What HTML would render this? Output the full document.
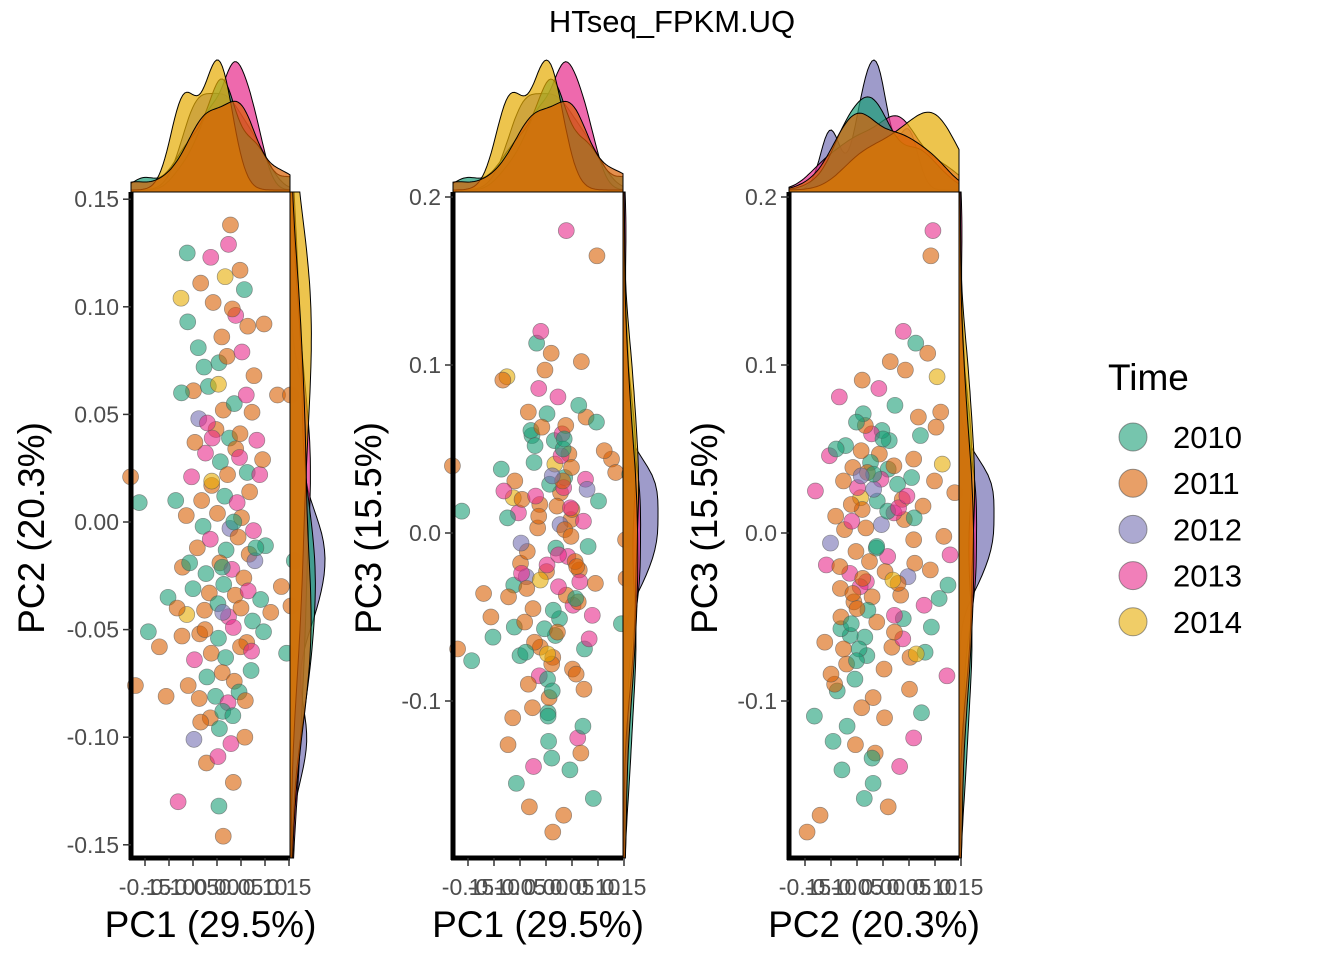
<!DOCTYPE html>
<html><head><meta charset="utf-8"><style>
html,body{margin:0;padding:0;background:#fff;}
svg{display:block;font-family:"Liberation Sans",Arial,sans-serif;}
</style></head><body>
<svg id="chart" width="1344" height="960" viewBox="0 0 1344 960" xmlns="http://www.w3.org/2000/svg">
<text x="672" y="32" font-size="31" text-anchor="middle">HTseq_FPKM.UQ</text>
<g id="panels"></g>
<g id="legend">
<text x="1108" y="390" font-size="37">Time</text>
</g>
</svg>
<script>
// Shared samples, values in hundredths: [PC1, PC2, PC3, yearIndex]
const samples = [
[-6.2,12.5,-3.1,0],[-3.4,11.1,7.2,1],[2.8,13.8,2.4,1],[-1.3,12.3,-8.5,3],[1.7,11.4,4.1,4],[-7.5,10.4,9.3,4],[-6.1,9.3,-5.6,0],[3.9,9.6,18.0,3],[6.4,9.1,-2.2,1],[9.8,9.2,16.5,1],
[-2.7,7.2,5.8,0],[0.4,7.4,-10.7,0],[2.1,7.7,1.6,1],[5.2,7.9,-4.3,3],[7.7,6.8,6.9,1],[-4.9,6.1,-1.8,1],[-1.8,6.3,11.3,0],[1.3,5.2,-7.4,1],[3.6,5.5,3.3,0],[6.1,5.9,-12.2,3],
[-3.8,4.8,-2.6,2],[-0.2,4.3,9.7,1],[2.6,3.9,-5.1,0],[4.8,4.1,0.8,1],[7.3,5.1,-9.3,1],[12.6,5.9,4.4,1],[-2.4,3.2,-13.9,3],[0.7,2.8,2.9,0],[3.9,3.4,-3.7,1],[6.3,2.3,7.6,0],
[-5.3,2.1,1.2,3],[-1.1,1.7,-6.8,1],[1.6,1.2,5.5,0],[4.2,0.9,-1.4,3],[6.8,1.4,10.2,1],[8.9,2.2,-4.9,3],[-8.6,1.0,3.8,0],[-6.4,0.3,-11.0,1],[-2.9,-0.2,6.1,0],[0.1,0.4,-2.3,1],
[2.7,-0.3,0.5,2],[5.1,0.2,-8.1,1],[7.6,-0.4,3.2,3],[-4.1,-1.2,-5.3,1],[-1.4,-0.8,8.6,3],[1.9,-1.3,-0.9,0],[4.4,-0.7,4.7,1],[6.7,-1.5,-13.1,1],[10.1,-1.1,1.9,0],[-7.2,-2.1,-3.8,1],
[-2.3,-2.4,4.2,0],[0.6,-1.9,-9.8,1],[3.1,-2.2,5.9,3],[5.6,-2.6,-1.7,1],[7.9,-1.8,2.6,2],[-5.0,-3.1,-7.3,0],[-1.6,-3.3,0.3,1],[1.4,-2.9,-4.6,0],[3.8,-3.4,6.4,1],[6.5,-3.2,-2.9,3],
[9.1,-3.6,-15.8,0],[13.4,-3.0,3.6,1],[-10.2,-3.5,-6.2,0],[-6.3,-4.3,2.1,4],[-2.6,-4.1,-10.4,1],[0.2,-3.8,7.1,0],[2.4,-4.4,-3.2,3],[5.0,-4.0,1.4,1],[7.4,-4.6,-6.9,0],[11.2,-4.2,4.9,1],
[-3.6,-5.2,-1.1,1],[0.3,-5.4,-8.7,0],[3.4,-4.9,2.7,3],[6.2,-5.6,-4.1,1],[9.7,-5.1,6.6,0],[-7.3,-5.3,-12.6,1],[-1.2,-6.1,1.7,1],[1.8,-6.3,-6.1,0],[4.9,-5.8,3.9,1],[-4.7,-6.4,-2.4,3],
[-2.1,-7.2,5.2,0],[1.1,-7.0,-7.8,1],[3.6,-7.4,0.2,1],[7.1,-6.9,-11.5,0],[-6.0,-7.6,3.1,1],[-0.3,-8.1,-5.7,0],[2.3,-8.4,8.1,3],[-3.7,-8.2,-3.3,1],[4.6,-7.9,-14.1,0],[-1.4,-9.1,1.0,1],
[1.2,-8.8,-9.4,0],[-4.8,-10.1,-0.6,2],[0.5,-9.6,-12.4,0],[2.9,-10.3,4.6,3],[-2.2,-11.2,-6.5,1],[0.2,-10.9,-1.9,3],[3.4,-12.1,-16.8,1],[-8.1,-13.0,2.5,3],[0.4,-13.2,-10.9,0],[1.3,-14.6,-17.8,1],
[-10.6,-8.1,-5.0,1],[-14.3,-5.1,-7.6,0],[-17.0,-7.6,-6.9,1],[-16.2,0.9,1.3,0],[-18.0,2.1,4.0,1],[15.4,-3.9,-2.7,1],[16.1,-1.8,3.5,0],[15.3,5.9,-0.4,1],[14.5,-6.1,-5.4,0],[-12.0,-5.8,-3.6,1],
[2.4,12.9,-1.3,3],[4.8,11.7,-0.2,1],[-0.8,10.2,6.3,1],[5.7,10.8,-3.9,0],[3.2,9.9,3.1,1],[-3.9,8.1,-7.1,0],[1.0,8.6,10.7,1],[-7.4,6.0,0.9,0],[8.3,3.8,-6.3,3],[-4.6,3.7,2.0,1],
[3.3,-9.0,5.0,0],[5.9,-8.3,-2.0,1],[-2.5,-5.0,-4.5,1],[7.2,-6.0,0.7,3],[1.1,-2.1,-13.4,0],[-1.0,3.9,12.0,3],[2.2,2.2,-5.9,1],[-3.4,-9.3,-9.0,1],[4.7,3.0,1.5,3],[0.3,6.4,-7.2,4],
[-5.7,-1.9,-14.9,0],[-2.0,4.6,2.2,3],[8.1,-1.2,-0.8,0],[-8.3,-4.0,9.1,1],[9.5,2.9,-3.0,1],[1.2,-4.2,3.4,2],[-1.1,1.9,-2.8,4],[3.5,0.0,5.6,0],[-3.2,1.0,-16.3,1],[5.8,-10.0,-8.4,1]
];
const years = ["2010","2011","2012","2013","2014"];
const colors = ["#1B9E77","#D95F02","#7570B3","#E7298A","#E6AB02"];
const xTicks = [-0.15,-0.10,-0.05,0.00,0.05,0.10,0.15];
const xTickLabels = ["-0.15","-0.10","-0.05","0.00","0.05","0.10","0.15"];
const pc2Ticks = [0.15,0.10,0.05,0.00,-0.05,-0.10,-0.15];
const pc2TickLabels = ["0.15","0.10","0.05","0.00","-0.05","-0.10","-0.15"];
const pc3Ticks = [0.2,0.1,0.0,-0.1];
const pc3TickLabels = ["0.2","0.1","0.0","-0.1"];

const NS="http://www.w3.org/2000/svg";
const panelsG=document.getElementById('panels');
function mk(tag,attrs,parent){const e=document.createElementNS(NS,tag);for(const k in attrs)e.setAttribute(k,attrs[k]);(parent||panelsG).appendChild(e);return e;}

const panels=[
 {name:"pc1-pc2",xi:0,yi:1,L:131,R:290,T:192,B:858,x0:217,xs:480,y0:522,ys:2152,yt:pc2Ticks,ytl:pc2TickLabels,xl:"PC1 (29.5%)",yl:"PC2 (20.3%)",ytx:30},
 {name:"pc1-pc3",xi:0,yi:2,L:453,R:623,T:192,B:858,x0:546,xs:520,y0:533,ys:1680,yt:pc3Ticks,ytl:pc3TickLabels,xl:"PC1 (29.5%)",yl:"PC3 (15.5%)",ytx:367},
 {name:"pc2-pc3",xi:1,yi:2,L:789,R:959,T:192,B:858,x0:883,xs:520,y0:533,ys:1680,yt:pc3Ticks,ytl:pc3TickLabels,xl:"PC2 (20.3%)",yl:"PC3 (15.5%)",ytx:703}
];

function bwNrd0(v){const n=v.length;if(n<2)return 0.03;const m=v.reduce((a,b)=>a+b,0)/n;const sd=Math.sqrt(v.reduce((a,b)=>a+(b-m)*(b-m),0)/(n-1));const s=[...v].sort((a,b)=>a-b);const q=p=>{const h=(n-1)*p,l=Math.floor(h);return s[l]+(s[Math.min(l+1,n-1)]-s[l])*(h-l);};const iqr=(q(0.75)-q(0.25))/1.34;const lo=Math.min(sd,iqr>0?iqr:sd);return 0.9*lo*Math.pow(n,-0.2);}
function kde(vals,grid){const bw=bwNrd0(vals);return grid.map(g=>{let s=0;for(const v of vals){const z=(g-v)/bw;s+=Math.exp(-0.5*z*z);}return vals.length?s/(vals.length*bw*Math.sqrt(2*Math.PI)):0;});}

panels.forEach(p=>{
 const g=mk('g',{});
 
 
 const X=v=>p.x0+v*p.xs, Y=v=>p.y0-v*p.ys;
 const bg=mk('rect',{x:p.L,y:p.T,width:p.R-p.L,height:p.B-p.T,fill:'#fff',stroke:'#333','stroke-width':1},g);
 
 samples.forEach(s=>{
  const c=mk('circle',{cx:X(s[p.xi]/100),cy:Y(s[p.yi]/100),r:8,fill:colors[s[3]],'fill-opacity':0.6,stroke:'#555','stroke-opacity':0.6,'stroke-width':0.7},g);
  
  
 });
 const xmin=(p.L-p.x0)/p.xs,xmax=(p.R-p.x0)/p.xs;
 const ymin=(p.y0-p.B)/p.ys,ymax=(p.y0-p.T)/p.ys;
 const N=80;
 const gx=[],gy=[];for(let i=0;i<=N;i++){gx.push(xmin+(xmax-xmin)*i/N);gy.push(ymin+(ymax-ymin)*i/N);}
 const dx=years.map((y,k)=>kde(samples.filter(s=>s[3]===k).map(s=>s[p.xi]/100),gx));
 const dy=years.map((y,k)=>kde(samples.filter(s=>s[3]===k).map(s=>s[p.yi]/100),gy));
 const mx=Math.max(...dx.flat()),my=Math.max(...dy.flat());
 const order=[2,3,0,4,1];
 order.forEach(k=>{
  let d='M'+X(gx[0])+','+p.T;
  gx.forEach((v,i)=>{d+=' L'+X(v).toFixed(1)+','+(p.T-2-dx[k][i]/mx*130).toFixed(1);});
  d+=' L'+X(gx[N])+','+p.T+' Z';
  const a=mk('path',{d:d,fill:colors[k],'fill-opacity':0.7,stroke:'#000','stroke-width':1},g);
  
  
  let e='M'+p.R+','+Y(gy[0]);
  gy.forEach((v,i)=>{e+=' L'+(p.R+1+dy[k][i]/my*34).toFixed(1)+','+Y(v).toFixed(1);});
  e+=' L'+p.R+','+Y(gy[N])+' Z';
  const b=mk('path',{d:e,fill:colors[k],'fill-opacity':0.7,stroke:'#000','stroke-width':1},g);
  
  
 });
 const ax=mk('line',{x1:p.L,y1:p.T,x2:p.L,y2:p.B+2,stroke:'#000','stroke-width':5},g);
 
 const bx=mk('line',{x1:p.L-2,y1:p.B,x2:p.R,y2:p.B,stroke:'#000','stroke-width':5},g);
 
 p.yt.forEach((t,i)=>{
  mk('line',{x1:p.L-8,y1:Y(t),x2:p.L,y2:Y(t),stroke:'#333','stroke-width':1.5},g);
  const tx=mk('text',{x:p.L-12,y:Y(t)+8,'font-size':23,fill:'#4d4d4d','text-anchor':'end'},g);
  tx.textContent=p.ytl[i];
  
 });
 xTicks.forEach((t,i)=>{
  mk('line',{x1:X(t),y1:p.B,x2:X(t),y2:p.B+8,stroke:'#333','stroke-width':1.5},g);
  const tx=mk('text',{x:X(t),y:p.B+37,'font-size':23,fill:'#4d4d4d','text-anchor':'middle'},g);
  tx.textContent=xTickLabels[i];
  
 });
 const xt=mk('text',{x:(p.L+p.R)/2,y:937,'font-size':37,'text-anchor':'middle'},g);
 xt.textContent=p.xl;
 const yt=mk('text',{x:0,y:0,'font-size':37,'text-anchor':'middle',transform:'translate('+(p.ytx+14)+',528) rotate(-90)'},g);
 yt.textContent=p.yl;
});
const lg=document.getElementById('legend');
years.forEach((y,k)=>{
 const cy=437+k*46.2;
 const c=mk('circle',{cx:1133,cy:cy,r:14,fill:colors[k],'fill-opacity':0.6,stroke:'#555','stroke-opacity':0.6},lg);
 
 const t=mk('text',{x:1173,y:cy+11,'font-size':31},lg);
 t.textContent=y;
});
</script>
</body></html>
